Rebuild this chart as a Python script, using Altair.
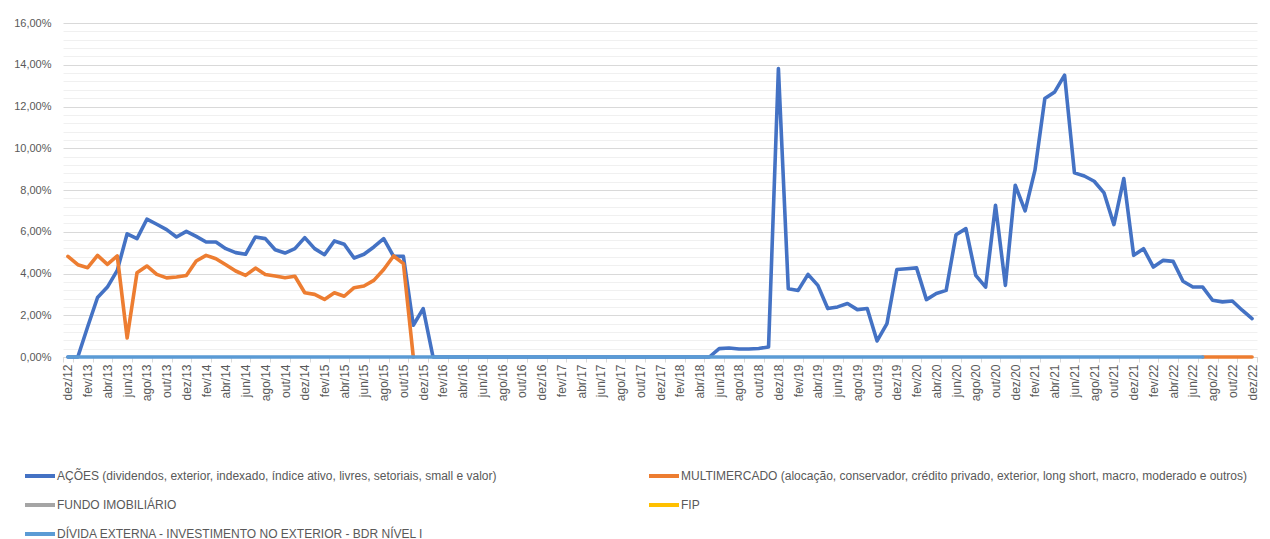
import altair as alt
import pandas as pd

PT = ["jan", "fev", "mar", "abr", "mai", "jun", "jul", "ago", "set", "out", "nov", "dez"]
months = ["dez/12"] + [f"{m}/{y:02d}" for y in range(13, 23) for m in PT]

series_names = [
    "AÇÕES (dividendos, exterior, indexado, índice ativo, livres, setoriais, small e valor)",
    "MULTIMERCADO (alocação, conservador, crédito privado, exterior, long short, macro, moderado e outros)",
    "FUNDO IMOBILIÁRIO",
    "FIP",
    "DÍVIDA EXTERNA - INVESTIMENTO NO EXTERIOR - BDR NÍVEL I",
]
series_colors = ["#4472C4", "#ED7D31", "#A5A5A5", "#FFC000", "#5B9BD5"]

# AÇÕES, % (121 months, dez/12 .. dez/22)
acoes = [
    0, 0, 1.45, 2.85, 3.35, 4.15, 5.9, 5.67, 6.6, 6.36, 6.1, 5.75, 6.02,
    5.78, 5.51, 5.51, 5.19, 5.0, 4.92, 5.75, 5.67, 5.14, 4.98, 5.19, 5.72,
    5.19, 4.9, 5.56, 5.4, 4.74, 4.92, 5.27, 5.67, 4.82, 4.82, 1.52, 2.32,
    0, 0, 0, 0, 0, 0, 0, 0, 0, 0, 0, 0, 0, 0, 0, 0, 0, 0, 0, 0, 0, 0, 0, 0, 0, 0, 0, 0, 0,
    0.40, 0.43, 0.38, 0.38, 0.41, 0.48, 13.82,
    3.27, 3.19, 3.96, 3.43, 2.32, 2.40, 2.56, 2.27, 2.32, 0.77, 1.6, 4.19,
    4.23, 4.27, 2.75, 3.04, 3.19, 5.86, 6.15, 3.91, 3.35, 7.27, 3.43, 8.23,
    7.0, 8.95, 12.38, 12.7, 13.5, 8.82, 8.67, 8.42, 7.86, 6.34, 8.55, 4.87,
    5.19, 4.31, 4.63, 4.58, 3.63, 3.35, 3.35, 2.72, 2.64, 2.68, 2.24, 1.84,
]
# MULTIMERCADO, % : first block dez/12 .. nov/15, second block jul/22 .. dez/22
multi_a = [
    4.82, 4.42, 4.28, 4.87, 4.44, 4.84, 0.91, 4.04, 4.36, 3.96, 3.79, 3.83, 3.9,
    4.6, 4.87, 4.71, 4.42, 4.12, 3.91, 4.26, 3.95, 3.88, 3.8, 3.87, 3.08,
    3.0, 2.76, 3.08, 2.91, 3.32, 3.4, 3.67, 4.19, 4.84, 4.47, 0,
]
multi_b_months = ["jul/22", "ago/22", "set/22", "out/22", "nov/22", "dez/22"]
multi_b = [0, 0, 0, 0, 0, 0]
# DÍVIDA EXTERNA, % : dez/12 .. jul/22
divida = [0] * 116

rows_acoes = [{"month": m, "serie": series_names[0], "seg": 0, "v": v / 100} for m, v in zip(months, acoes)]
rows_multi = [{"month": m, "serie": series_names[1], "seg": 0, "v": v / 100} for m, v in zip(months, multi_a)]
rows_multi += [{"month": m, "serie": series_names[1], "seg": 1, "v": v / 100} for m, v in zip(multi_b_months, multi_b)]
rows_div = [{"month": m, "serie": series_names[4], "seg": 0, "v": v / 100} for m, v in zip(months, divida)]

yvals = [round(i * 0.004, 4) for i in range(41)]
FONT = "Liberation Sans"
TXT = "#595959"

x_enc = alt.X(
    "month:O",
    sort=months,
    scale=alt.Scale(type="band", domain=months, paddingInner=0, paddingOuter=0),
    axis=alt.Axis(
        values=months[::2], labelAngle=-90, tickBand="extent", ticks=True, tickColor="#D9D9D9",
        tickSize=5, domainColor="#D9D9D9", grid=False, labelPadding=2, title=None,
        labelFont=FONT, labelFontSize=12, labelColor=TXT, labelOverlap=False,
    ),
)
y_enc = alt.Y(
    "v:Q",
    scale=alt.Scale(domain=[0, 0.16], nice=False),
    axis=alt.Axis(
        values=yvals, title=None, domain=False, ticks=False, grid=True,
        gridColor={"condition": {"test": "round(datum.value*1000) % 20 === 0", "value": "#D9D9D9"}, "value": "#F0F0F0"},
        labelExpr="round(datum.value*1000) % 20 === 0 ? replace(format(datum.value, '.2%'), '.', ',') : ''",
        labelFont=FONT, labelFontSize=11, labelColor=TXT, labelPadding=12, labelOverlap=False,
    ),
)
color_enc = alt.Color(
    "serie:N",
    scale=alt.Scale(domain=series_names, range=series_colors),
    legend=alt.Legend(
        title=None, orient="none", legendX=-40, legendY=446, columns=2, direction="horizontal",
        columnPadding=144, rowPadding=13, symbolType="M-1,0L5,0", symbolSize=100, symbolStrokeWidth=4,
        labelOffset=20, labelFont=FONT, labelFontSize=12, labelColor=TXT, labelLimit=800,
    ),
)

def layer(rows):
    return alt.Chart(pd.DataFrame(rows)).mark_line(strokeWidth=3.6, strokeJoin="round", strokeCap="round").encode(
        x=x_enc, y=y_enc, color=color_enc, detail="seg:N"
    )

chart = alt.layer(layer(rows_acoes), layer(rows_multi), layer(rows_div)).properties(
    width=1194, height=334, padding={"left": 5, "top": 9, "right": 0, "bottom": 0}
).configure_view(stroke=None)

chart.save("out.html", embed_options={"renderer": "svg", "actions": False})
